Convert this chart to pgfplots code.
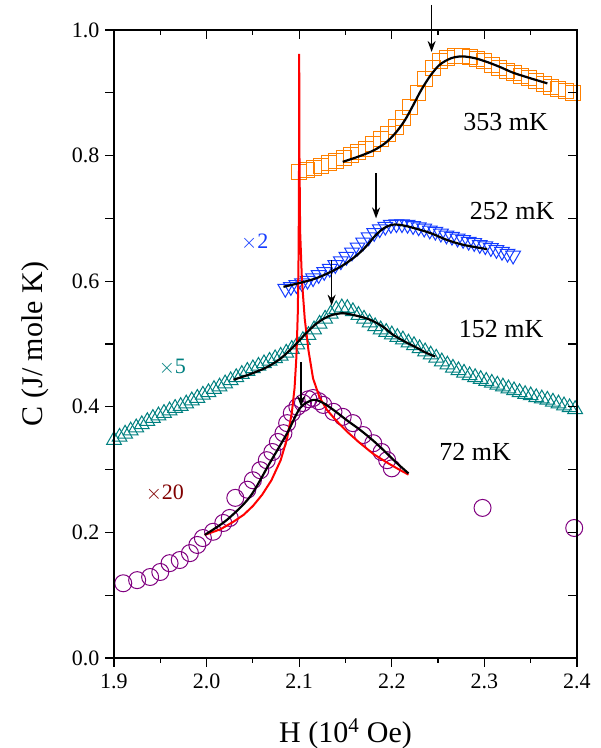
\documentclass[border=0pt]{standalone}
\usepackage{pgfplots}
\pgfplotsset{compat=1.18}
\usepackage{fontspec}
\setmainfont{Liberation Serif}
\usetikzlibrary{arrows.meta}
\definecolor{cOrange}{RGB}{255,128,0}
\definecolor{cBlue}{RGB}{20,60,255}
\definecolor{cTeal}{RGB}{0,128,128}
\definecolor{cPurple}{RGB}{128,0,128}
\definecolor{cDark}{RGB}{128,0,0}
\begin{document}
\begin{tikzpicture}
\path[use as bounding box] (-114pt,-90pt) rectangle (487pt,658pt);
\begin{axis}[
  at={(0pt,0pt)}, anchor=south west,
  width=463pt, height=628pt, scale only axis,
  xmin=1.9, xmax=2.4, ymin=0, ymax=1.0,
  xtick={1.9,2.0,2.1,2.2,2.3,2.4},
  xticklabels={1.9,2.0,2.1,2.2,2.3,2.4},
  ytick={0,0.2,0.4,0.6,0.8,1.0},
  yticklabels={0.0,0.2,0.4,0.6,0.8,1.0},
  tick align=outside, xtick pos=bottom, ytick pos=left,
  tickwidth=9pt, subtickwidth=5pt,
  tick style={draw=none},
  axis line style={line width=1.3pt},
  ticklabel style={font=\fontsize{22}{22}\selectfont},
  xticklabel style={yshift=-3pt},
  yticklabel style={xshift=-2pt},
  xlabel={H (10\textsuperscript{4} Oe)},
  ylabel={C (J/ mole K)},
  xlabel style={at={([yshift=-84pt]axis description cs:0.5,0)}, anchor=base, font=\fontsize{30}{30}\selectfont},
  ylabel style={at={([xshift=-71pt]axis description cs:0,0.5)}, anchor=base, font=\fontsize{30}{30}\selectfont},
  clip mode=individual,
]
% 353 mK (orange squares)
\addplot[only marks, mark=square, mark size=7.5pt, color=cOrange, mark options={line width=1pt}] table {
x y
2.100 0.774
2.108 0.777
2.116 0.780
2.124 0.784
2.132 0.788
2.140 0.792
2.148 0.796
2.156 0.801
2.164 0.806
2.172 0.811
2.180 0.818
2.188 0.826
2.196 0.835
2.204 0.846
2.212 0.860
2.220 0.878
2.228 0.900
2.236 0.922
2.244 0.940
2.252 0.951
2.260 0.956
2.268 0.958
2.276 0.958
2.284 0.957
2.292 0.954
2.300 0.950
2.308 0.945
2.316 0.940
2.324 0.935
2.332 0.931
2.340 0.927
2.348 0.923
2.356 0.918
2.364 0.914
2.372 0.910
2.380 0.906
2.388 0.903
2.396 0.900
};
% 252 mK (blue down triangles)
\addplot[only marks, mark=triangle, mark size=8.5pt, color=cBlue, mark options={rotate=180, line width=1pt}] table {
x y
2.085 0.588
2.091 0.591
2.097 0.594
2.103 0.597
2.109 0.601
2.115 0.605
2.121 0.610
2.127 0.615
2.133 0.620
2.139 0.626
2.145 0.632
2.151 0.639
2.157 0.646
2.163 0.654
2.169 0.662
2.175 0.670
2.181 0.677
2.187 0.683
2.193 0.687
2.199 0.690
2.205 0.691
2.211 0.691
2.217 0.690
2.223 0.688
2.229 0.686
2.235 0.684
2.241 0.681
2.247 0.679
2.253 0.676
2.259 0.673
2.265 0.671
2.271 0.668
2.277 0.666
2.283 0.663
2.289 0.661
2.295 0.658
2.301 0.656
2.307 0.653
2.313 0.650
2.319 0.647
2.325 0.644
2.331 0.641
};
% 152 mK (teal up triangles)
\addplot[only marks, mark=triangle, mark size=8.5pt, color=cTeal, mark options={line width=1pt}] table {
x y
1.900 0.347
1.906 0.352
1.912 0.357
1.918 0.362
1.924 0.367
1.930 0.372
1.936 0.377
1.942 0.382
1.948 0.386
1.954 0.390
1.960 0.394
1.966 0.398
1.972 0.401
1.978 0.405
1.984 0.410
1.990 0.414
1.996 0.419
2.002 0.423
2.008 0.428
2.014 0.432
2.020 0.437
2.026 0.442
2.032 0.447
2.038 0.452
2.044 0.457
2.050 0.461
2.056 0.465
2.062 0.469
2.068 0.473
2.074 0.477
2.080 0.481
2.086 0.486
2.092 0.492
2.098 0.499
2.104 0.506
2.110 0.514
2.116 0.523
2.122 0.532
2.128 0.540
2.134 0.548
2.140 0.555
2.146 0.558
2.152 0.557
2.158 0.552
2.164 0.546
2.170 0.540
2.176 0.534
2.182 0.528
2.188 0.523
2.194 0.519
2.200 0.515
2.206 0.511
2.212 0.507
2.218 0.502
2.224 0.498
2.230 0.493
2.236 0.488
2.242 0.483
2.248 0.478
2.254 0.472
2.260 0.467
2.266 0.462
2.272 0.458
2.278 0.454
2.284 0.450
2.290 0.447
2.296 0.444
2.302 0.441
2.308 0.438
2.314 0.435
2.320 0.432
2.326 0.429
2.332 0.426
2.338 0.423
2.344 0.420
2.350 0.418
2.356 0.415
2.362 0.413
2.368 0.411
2.374 0.408
2.380 0.405
2.386 0.402
2.392 0.399
2.398 0.396
};
% 72 mK (purple circles)
\addplot[only marks, mark=o, mark size=8.5pt, color=cPurple, mark options={line width=1pt}] table {
x y
1.910 0.119
1.925 0.124
1.939 0.129
1.950 0.137
1.960 0.151
1.971 0.156
1.982 0.167
1.990 0.180
1.996 0.191
2.007 0.201
2.018 0.215
2.025 0.223
2.031 0.255
2.044 0.268
2.050 0.283
2.058 0.299
2.065 0.315
2.071 0.328
2.077 0.344
2.083 0.358
2.087 0.374
2.092 0.390
2.098 0.400
2.104 0.406
2.110 0.412
2.115 0.414
2.121 0.409
2.126 0.403
2.137 0.392
2.147 0.384
2.158 0.374
2.169 0.355
2.180 0.342
2.189 0.328
2.195 0.315
2.200 0.302
2.298 0.239
2.397 0.207
};
% red singular curve
\addplot[color=red, line width=2pt, mark=none] table {
x y
1.998 0.196
2.015 0.205
2.029 0.217
2.040 0.228
2.050 0.242
2.060 0.260
2.070 0.283
2.080 0.315
2.087 0.350
2.092 0.390
2.095 0.430
2.097 0.480
2.0985 0.550
2.0994 0.650
2.0998 0.780
2.1000 0.962
2.1003 0.800
2.1010 0.680
2.1030 0.600
2.1060 0.540
2.1100 0.490
2.1150 0.445
2.1220 0.415
2.1300 0.395
2.1400 0.378
2.1520 0.360
2.1650 0.343
2.1800 0.325
2.1950 0.311
2.2080 0.300
2.2180 0.292
};
% black fits
\addplot[black, line width=2.2pt, smooth, mark=none] table {
x y
2.147 0.790
2.165 0.799
2.180 0.808
2.193 0.820
2.204 0.836
2.214 0.856
2.223 0.880
2.232 0.905
2.242 0.928
2.252 0.945
2.264 0.955
2.276 0.958
2.290 0.955
2.303 0.949
2.317 0.941
2.331 0.932
2.350 0.923
2.368 0.915
};
\addplot[black, line width=2.2pt, smooth, mark=none] table {
x y
2.083 0.591
2.100 0.597
2.117 0.604
2.133 0.614
2.148 0.626
2.162 0.641
2.172 0.655
2.180 0.669
2.190 0.683
2.201 0.690
2.215 0.688
2.241 0.677
2.259 0.666
2.277 0.658
2.303 0.651
};
\addplot[black, line width=2.2pt, smooth, mark=none] table {
x y
2.029 0.443
2.047 0.452
2.065 0.463
2.080 0.477
2.094 0.496
2.108 0.518
2.120 0.534
2.133 0.545
2.147 0.549
2.162 0.545
2.176 0.539
2.190 0.528
2.201 0.515
2.215 0.503
2.227 0.494
2.237 0.486
2.247 0.480
};
\addplot[black, line width=2.2pt, smooth, mark=none] table {
x y
1.998 0.196
2.022 0.220
2.047 0.257
2.068 0.310
2.087 0.358
2.101 0.398
2.115 0.411
2.126 0.406
2.137 0.395
2.152 0.378
2.166 0.363
2.180 0.346
2.191 0.331
2.205 0.311
2.218 0.294
};
% labels
\node[font=\fontsize{26}{26}\selectfont] at (axis cs:2.323,0.853) {353 mK};
\node[font=\fontsize{26}{26}\selectfont] at (axis cs:2.330,0.712) {252 mK};
\node[font=\fontsize{26}{26}\selectfont] at (axis cs:2.318,0.524) {152 mK};
\node[font=\fontsize{26}{26}\selectfont] at (axis cs:2.290,0.328) {72 mK};
\node[font=\fontsize{22}{22}\selectfont, text=cBlue] at (axis cs:2.052,0.662) {$\times$2};
\node[font=\fontsize{22}{22}\selectfont, text=cTeal] at (axis cs:1.963,0.463) {$\times$5};
\node[font=\fontsize{22}{22}\selectfont, text=cDark] at (axis cs:1.955,0.263) {$\times$20};
\end{axis}
\begin{axis}[
  at={(0pt,0pt)}, anchor=south west,
  width=463pt, height=628pt, scale only axis,
  xmin=1.9, xmax=2.4, ymin=0, ymax=1.0,
  xtick={1.9,2.0,2.1,2.2,2.3,2.4},
  minor xtick={1.95,2.05,2.15,2.25,2.35},
  ytick={0,0.2,0.4,0.6,0.8,1.0},
  minor ytick={0.1,0.3,0.5,0.7,0.9},
  xticklabels={}, yticklabels={},
  tick align=inside, xtick pos=top, ytick pos=right,
  tick style={black, line width=1.2pt},
  axis line style={line width=1.3pt},
  clip=false,
]
% tick marks: outward on bottom/left, inward on top/right
\pgfplotsinvokeforeach{1.9,2.0,2.1,2.2,2.3,2.4}{
  \draw[line width=1.2pt] (axis cs:#1,0) -- ([yshift=-9pt]axis cs:#1,0);
  \draw[line width=1.2pt] (axis cs:#1,1) -- ([yshift=-9pt]axis cs:#1,1);
}
\pgfplotsinvokeforeach{1.95,2.05,2.15,2.25,2.35}{
  \draw[line width=1.2pt] (axis cs:#1,0) -- ([yshift=-5pt]axis cs:#1,0);
  \draw[line width=1.2pt] (axis cs:#1,1) -- ([yshift=-5pt]axis cs:#1,1);
}
\pgfplotsinvokeforeach{0,0.1,0.2,0.3,0.4,0.5,0.6,0.7,0.8,0.9,1.0}{
  \draw[line width=1.2pt] (axis cs:1.9,#1) -- ([xshift=-9pt]axis cs:1.9,#1);
  \draw[line width=1.2pt] (axis cs:2.4,#1) -- ([xshift=-9pt]axis cs:2.4,#1);
}
% arrows
\draw[-{Stealth[length=11pt,width=8pt]}, line width=1.5pt] (axis cs:2.243,1.040) -- (axis cs:2.243,0.965);
\draw[-{Stealth[length=11pt,width=8pt]}, line width=1.5pt] (axis cs:2.183,0.772) -- (axis cs:2.183,0.700);
\draw[-{Stealth[length=11pt,width=8pt]}, line width=1.5pt] (axis cs:2.135,0.634) -- (axis cs:2.135,0.561);
\draw[-{Stealth[length=11pt,width=8pt]}, line width=1.5pt] (axis cs:2.102,0.471) -- (axis cs:2.102,0.400);
\end{axis}
\end{tikzpicture}
\end{document}
